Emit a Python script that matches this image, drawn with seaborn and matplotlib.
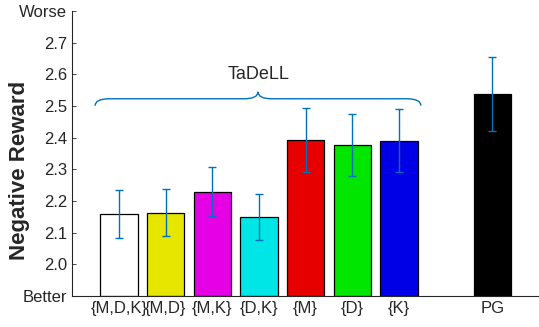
import numpy as np
import pandas as pd
import seaborn as sns
import matplotlib.pyplot as plt
from matplotlib.path import Path
from matplotlib.patches import PathPatch

# ---- data ----
labels = ['{M,D,K}', '{M,D}', '{M,K}', '{D,K}', '{M}', '{D}', '{K}', 'PG']
positions = [1, 2, 3, 4, 5, 6, 7, 9]
means = [2.159, 2.163, 2.229, 2.150, 2.394, 2.378, 2.391, 2.538]
errors = [0.075, 0.075, 0.077, 0.073, 0.101, 0.098, 0.100, 0.117]
colors = ['#FFFFFF', '#E6E600', '#E600E6', '#00E6E6', '#E60000', '#00E600', '#0000E6', '#000000']

ERR_COLOR = '#0072BD'

sns.set_style('ticks')
plt.rcParams['font.family'] = ['Liberation Sans', 'DejaVu Sans']

df = pd.DataFrame({'pos': positions, 'mean': means, 'label': labels})

fig, ax = plt.subplots(figsize=(5.39, 3.27), dpi=100)
sns.barplot(data=df, x='pos', y='mean', hue='label', palette=colors,
            hue_order=labels, native_scale=True, width=0.8, dodge=False,
            saturation=1, edgecolor='black', linewidth=0.9, legend=False, ax=ax)
# bars start from the bottom of the view
for p in ax.patches:
    p.set_y(1.9)
    p.set_height(p.get_height() - 1.9)

ax.errorbar(positions, means, yerr=errors, fmt='none', ecolor=ERR_COLOR,
            elinewidth=1.0, capsize=3, capthick=1.0, zorder=5)

# curly brace over TaDeLL group
def brace(ax, x0, x1, y, h, r):
    xm = (x0 + x1) / 2
    verts = [(x0, y - h), (x0, y), (x0 + r, y),
             (xm - r, y), (xm, y), (xm, y + h),
             (xm, y), (xm + r, y),
             (x1 - r, y), (x1, y), (x1, y - h)]
    codes = [Path.MOVETO, Path.CURVE3, Path.CURVE3,
             Path.LINETO, Path.CURVE3, Path.CURVE3,
             Path.CURVE3, Path.CURVE3,
             Path.LINETO, Path.CURVE3, Path.CURVE3]
    ax.add_patch(PathPatch(Path(verts, codes), fill=False, edgecolor=ERR_COLOR,
                           linewidth=1.0, clip_on=False))

brace(ax, 0.49, 7.47, 2.523, 0.022, 0.3)
ax.text(4, 2.6, 'TaDeLL', ha='center', va='center', fontsize=13)

ax.set_xlim(0, 10)
ax.set_ylim(1.9, 2.8)
ax.set_xticks(positions)
ax.set_xticklabels(labels, fontsize=12, color='#262626')
yt = [1.9, 2.0, 2.1, 2.2, 2.3, 2.4, 2.5, 2.6, 2.7, 2.8]
ax.set_yticks(yt)
ax.set_yticklabels(['Better', '2.0', '2.1', '2.2', '2.3', '2.4', '2.5', '2.6', '2.7', 'Worse'],
                   fontsize=12, color='#262626')
ax.tick_params(direction='in', length=3, width=0.6, colors='#262626', labelcolor='#262626')
ax.set_xlabel('')
ax.set_ylabel('Negative Reward', fontsize=16, fontweight='bold')
ax.yaxis.set_label_coords(-0.09, 0.439)
sns.despine(ax=ax)
for s in ['left', 'bottom']:
    ax.spines[s].set_linewidth(0.8)
    ax.spines[s].set_color('#262626')

fig.subplots_adjust(left=0.134, right=1.0, bottom=0.095, top=0.966)
fig.savefig('out.png', dpi=100)
